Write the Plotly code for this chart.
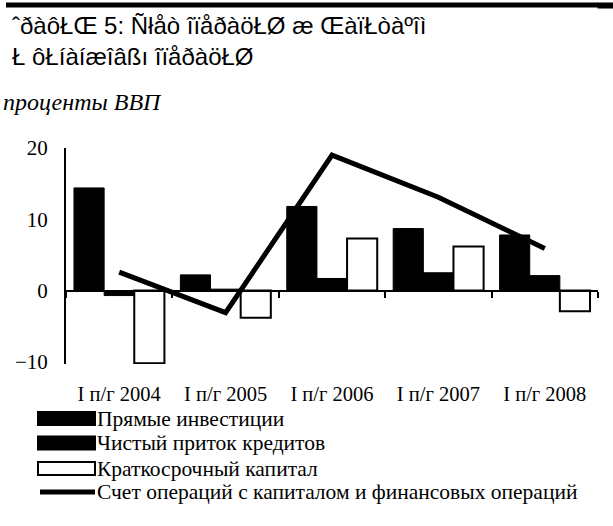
import plotly.graph_objects as go

# ---- data ----
categories = ["I п/г 2004", "I п/г 2005", "I п/г 2006", "I п/г 2007", "I п/г 2008"]
direct_inv = [14.4, 2.2, 11.8, 8.7, 7.8]
net_credit = [-0.7, 0.2, 1.7, 2.5, 2.1]
short_cap = [-10.2, -3.8, 7.3, 6.2, -2.9]
cap_fin_account = [2.6, -3.1, 19.0, 13.1, 5.9]
series_names = [
    "Прямые инвестиции",
    "Чистый приток кредитов",
    "Краткосрочный капитал",
    "Счет операций с капиталом и финансовых операций",
]
y_ticks = [-10, 0, 10, 20]
title_lines = ["ˆðàôŁŒ 5: Ñłåò îïåðàöŁØ æ ŒàïŁòàºîì", "Ł ôŁíàíæîâßı îïåðàöŁØ"]
subtitle = "проценты ВВП"

# ---- layout geometry ----
W, H = 613, 526
L, R, T, B = 66, 15, 148, 162
PW, PH = W - L - R, H - T - B
Y0, Y1 = -10.3, 20.0

def px(x):
    return (x - L) / PW

def py(y):
    return (H - B - y) / PH

SERIF = "Liberation Serif, Times New Roman, serif"
NARROW = "Liberation Sans Narrow, Arial Narrow, Liberation Sans, sans-serif"

fig = go.Figure()
fig.add_trace(go.Bar(x=categories, y=direct_inv, name=series_names[0],
                     marker=dict(color="black", line=dict(color="black", width=1))))
fig.add_trace(go.Bar(x=categories, y=net_credit, name=series_names[1],
                     marker=dict(color="black", line=dict(color="black", width=1))))
fig.add_trace(go.Bar(x=categories, y=short_cap, name=series_names[2],
                     marker=dict(color="white", line=dict(color="black", width=2))))
fig.add_trace(go.Scatter(x=categories, y=cap_fin_account, name=series_names[3],
                         mode="lines", line=dict(color="black", width=5)))
# carrier for the category labels axis
fig.add_trace(go.Scatter(x=categories, y=[None] * len(categories), xaxis="x2",
                         mode="markers", showlegend=False, hoverinfo="skip"))

# top rule built from short adjacent segments
shapes = []
rule_edges = [6, 200, 400, 598]
for a, b in zip(rule_edges[:-1], rule_edges[1:]):
    shapes.append(dict(type="rect", xref="paper", yref="paper", x0=px(a), x1=px(b),
                       y0=py(2.5), y1=py(7.5), fillcolor="black", line=dict(width=0),
                       layer="above"))
annotations = [
    dict(text=" ", x=px(597), y=py(5), xref="paper", yref="paper", width=16, height=5,
         xanchor="left", yanchor="middle", showarrow=False, bgcolor="black", borderpad=0,
         font=dict(size=2)),
    dict(text=title_lines[0], x=px(10), y=py(26), xref="paper", yref="paper",
         xanchor="left", yanchor="middle", showarrow=False,
         font=dict(family=NARROW, size=24, color="black")),
    dict(text=title_lines[1], x=px(10), y=py(56), xref="paper", yref="paper",
         xanchor="left", yanchor="middle", showarrow=False,
         font=dict(family=NARROW, size=24, color="black")),
    dict(text="<i>" + subtitle + "</i>", x=px(1), y=py(102), xref="paper", yref="paper",
         xanchor="left", yanchor="middle", showarrow=False,
         font=dict(family=SERIF, size=24, color="black")),
]

# manual legend
leg_y = [418.5, 443, 468.5, 492]
sw_x0, sw_x1 = 38, 95
fills = ["black", "black", "white"]
for i in range(3):
    shapes.append(dict(type="rect", xref="paper", yref="paper",
                       x0=px(sw_x0), x1=px(sw_x1), y0=py(leg_y[i] - 6.5), y1=py(leg_y[i] + 6.5),
                       fillcolor=fills[i], line=dict(color="black", width=2)))
shapes.append(dict(type="line", xref="paper", yref="paper",
                   x0=px(sw_x0 + 2), x1=px(sw_x1), y0=py(leg_y[3]), y1=py(leg_y[3]),
                   line=dict(color="black", width=5)))
for i, name in enumerate(series_names):
    annotations.append(dict(text=name, x=px(95), y=py(leg_y[i]), xref="paper", yref="paper",
                            xanchor="left", yanchor="middle", showarrow=False,
                            font=dict(family=SERIF, size=21.5, color="black")))

fig.update_layout(
    width=W, height=H,
    margin=dict(l=L, r=R, t=T, b=B, pad=0),
    paper_bgcolor="white", plot_bgcolor="white",
    barmode="group", bargap=0.15, bargroupgap=0,
    showlegend=False,
    shapes=shapes, annotations=annotations,
    xaxis=dict(type="category", range=[-0.5, 4.5], anchor="free", position=(0 - Y0) / (Y1 - Y0),
               showline=True, linecolor="black", linewidth=2,
               ticks="outside", tickson="boundaries", ticklen=6, tickwidth=2, tickcolor="black",
               showticklabels=False, showgrid=False, zeroline=False),
    xaxis2=dict(type="category", range=[-0.5, 4.5], overlaying="x", anchor="y", side="bottom",
                showline=False, ticks="", showgrid=False, zeroline=False,
                ticklabelstandoff=15,
                tickfont=dict(family=SERIF, size=20.5, color="black")),
    yaxis=dict(range=[Y0, Y1], tickvals=y_ticks, showline=True, linecolor="black", linewidth=2,
               ticks="", showgrid=False, zeroline=False, ticklabelstandoff=12,
               tickfont=dict(family=SERIF, size=21, color="black")),
    font=dict(family=SERIF, color="black"),
)

fig.write_html("out.html", config={"displayModeBar": False},
               post_script="document.body.style.margin='0';")
